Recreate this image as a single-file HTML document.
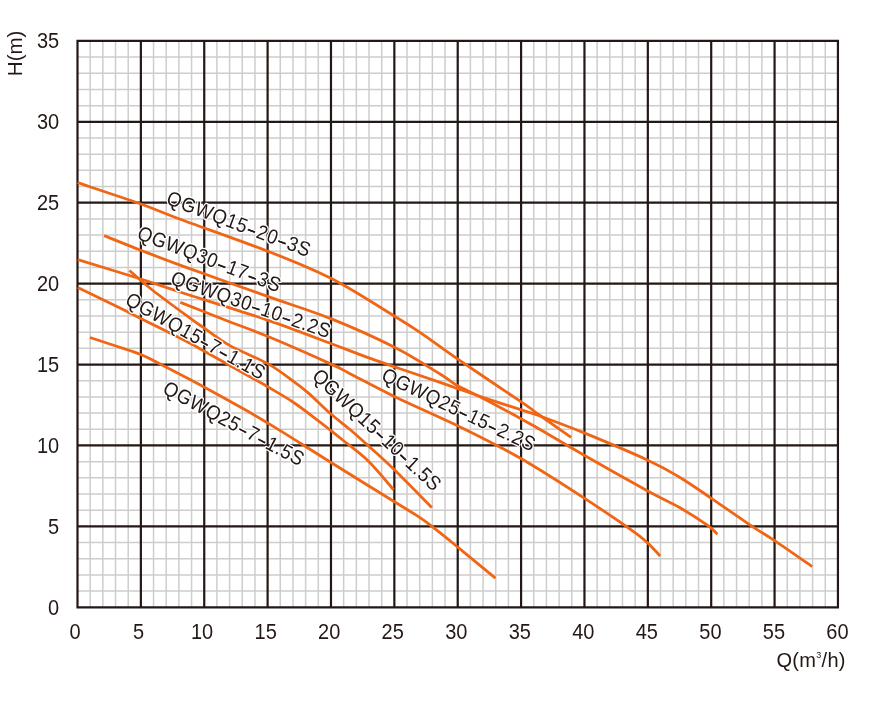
<!DOCTYPE html><html><head><meta charset="utf-8"><style>html,body{margin:0;padding:0;background:#fff;width:892px;height:707px;overflow:hidden}svg{will-change:transform}</style></head><body><svg width="892" height="707" viewBox="0 0 892 707" style="position:absolute;left:0;top:0"><rect width="892" height="707" fill="#fff"/><path d="M90.17 40.89V607.30M102.85 40.89V607.30M115.52 40.89V607.30M128.20 40.89V607.30M153.54 40.89V607.30M166.22 40.89V607.30M178.89 40.89V607.30M191.57 40.89V607.30M216.91 40.89V607.30M229.59 40.89V607.30M242.26 40.89V607.30M254.94 40.89V607.30M280.28 40.89V607.30M292.96 40.89V607.30M305.63 40.89V607.30M318.31 40.89V607.30M343.65 40.89V607.30M356.33 40.89V607.30M369.00 40.89V607.30M381.68 40.89V607.30M407.02 40.89V607.30M419.70 40.89V607.30M432.37 40.89V607.30M445.05 40.89V607.30M470.39 40.89V607.30M483.07 40.89V607.30M495.74 40.89V607.30M508.42 40.89V607.30M533.76 40.89V607.30M546.44 40.89V607.30M559.11 40.89V607.30M571.79 40.89V607.30M597.13 40.89V607.30M609.81 40.89V607.30M622.48 40.89V607.30M635.16 40.89V607.30M660.50 40.89V607.30M673.18 40.89V607.30M685.85 40.89V607.30M698.53 40.89V607.30M723.87 40.89V607.30M736.55 40.89V607.30M749.22 40.89V607.30M761.90 40.89V607.30M787.24 40.89V607.30M799.92 40.89V607.30M812.59 40.89V607.30M825.27 40.89V607.30M77.50 591.12H837.94M77.50 574.93H837.94M77.50 558.75H837.94M77.50 542.57H837.94M77.50 510.20H837.94M77.50 494.02H837.94M77.50 477.84H837.94M77.50 461.65H837.94M77.50 429.29H837.94M77.50 413.10H837.94M77.50 396.92H837.94M77.50 380.74H837.94M77.50 348.37H837.94M77.50 332.19H837.94M77.50 316.01H837.94M77.50 299.82H837.94M77.50 267.46H837.94M77.50 251.27H837.94M77.50 235.09H837.94M77.50 218.91H837.94M77.50 186.54H837.94M77.50 170.36H837.94M77.50 154.18H837.94M77.50 137.99H837.94M77.50 105.63H837.94M77.50 89.44H837.94M77.50 73.26H837.94M77.50 57.08H837.94" stroke="#cdcdcd" stroke-width="1.5" fill="none"/><path d="M77.50 39.89V608.30M140.87 39.89V608.30M204.24 39.89V608.30M267.61 39.89V608.30M330.98 39.89V608.30M394.35 39.89V608.30M457.72 39.89V608.30M521.09 39.89V608.30M584.46 39.89V608.30M647.83 39.89V608.30M711.20 39.89V608.30M774.57 39.89V608.30M837.94 39.89V608.30M76.50 607.30H838.94M76.50 526.38H838.94M76.50 445.47H838.94M76.50 364.55H838.94M76.50 283.64H838.94M76.50 202.72H838.94M76.50 121.81H838.94M76.50 40.89H838.94" stroke="#231815" stroke-width="2.2" fill="none"/><text transform="translate(59.2,614.77) scale(1,1.06)" text-anchor="end" font-size="20" fill="#231815" font-family="Liberation Sans, sans-serif">0</text><text transform="translate(59.2,533.85) scale(1,1.06)" text-anchor="end" font-size="20" fill="#231815" font-family="Liberation Sans, sans-serif">5</text><text transform="translate(59.2,452.94) scale(1,1.06)" text-anchor="end" font-size="20" fill="#231815" font-family="Liberation Sans, sans-serif">10</text><text transform="translate(59.2,372.02) scale(1,1.06)" text-anchor="end" font-size="20" fill="#231815" font-family="Liberation Sans, sans-serif">15</text><text transform="translate(59.2,291.11) scale(1,1.06)" text-anchor="end" font-size="20" fill="#231815" font-family="Liberation Sans, sans-serif">20</text><text transform="translate(59.2,210.19) scale(1,1.06)" text-anchor="end" font-size="20" fill="#231815" font-family="Liberation Sans, sans-serif">25</text><text transform="translate(59.2,129.28) scale(1,1.06)" text-anchor="end" font-size="20" fill="#231815" font-family="Liberation Sans, sans-serif">30</text><text transform="translate(59.2,48.36) scale(1,1.06)" text-anchor="end" font-size="20" fill="#231815" font-family="Liberation Sans, sans-serif">35</text><text transform="translate(75.05,638.80) scale(1,1.06)" text-anchor="middle" font-size="20" fill="#231815" font-family="Liberation Sans, sans-serif">0</text><text transform="translate(138.59,638.80) scale(1,1.06)" text-anchor="middle" font-size="20" fill="#231815" font-family="Liberation Sans, sans-serif">5</text><text transform="translate(202.12,638.80) scale(1,1.06)" text-anchor="middle" font-size="20" fill="#231815" font-family="Liberation Sans, sans-serif">10</text><text transform="translate(265.66,638.80) scale(1,1.06)" text-anchor="middle" font-size="20" fill="#231815" font-family="Liberation Sans, sans-serif">15</text><text transform="translate(329.19,638.80) scale(1,1.06)" text-anchor="middle" font-size="20" fill="#231815" font-family="Liberation Sans, sans-serif">20</text><text transform="translate(392.73,638.80) scale(1,1.06)" text-anchor="middle" font-size="20" fill="#231815" font-family="Liberation Sans, sans-serif">25</text><text transform="translate(456.26,638.80) scale(1,1.06)" text-anchor="middle" font-size="20" fill="#231815" font-family="Liberation Sans, sans-serif">30</text><text transform="translate(519.79,638.80) scale(1,1.06)" text-anchor="middle" font-size="20" fill="#231815" font-family="Liberation Sans, sans-serif">35</text><text transform="translate(583.33,638.80) scale(1,1.06)" text-anchor="middle" font-size="20" fill="#231815" font-family="Liberation Sans, sans-serif">40</text><text transform="translate(646.87,638.80) scale(1,1.06)" text-anchor="middle" font-size="20" fill="#231815" font-family="Liberation Sans, sans-serif">45</text><text transform="translate(710.40,638.80) scale(1,1.06)" text-anchor="middle" font-size="20" fill="#231815" font-family="Liberation Sans, sans-serif">50</text><text transform="translate(773.93,638.80) scale(1,1.06)" text-anchor="middle" font-size="20" fill="#231815" font-family="Liberation Sans, sans-serif">55</text><text transform="translate(837.47,638.80) scale(1,1.06)" text-anchor="middle" font-size="20" fill="#231815" font-family="Liberation Sans, sans-serif">60</text><text transform="translate(22.3,53.4) rotate(-90)" text-anchor="middle" font-size="20.5" fill="#231815" font-family="Liberation Sans, sans-serif">H(m)</text><text x="776.5" y="666.6" font-size="20" letter-spacing="0.3" fill="#231815" font-family="Liberation Sans, sans-serif">Q(m<tspan font-size="9" dy="-8.5">3</tspan><tspan dy="8.5">/h)</tspan></text><path d="M77.60 182.70 C88.13 186.25 123.82 197.95 140.80 204.00 C157.78 210.05 158.38 211.15 179.50 219.00 C200.62 226.85 242.18 241.17 267.50 251.10 C292.82 261.03 310.23 267.75 331.40 278.60 C352.57 289.45 379.73 307.23 394.50 316.20 C409.27 325.17 409.45 325.23 420.00 332.40 C430.55 339.57 440.87 347.57 457.80 359.20 C474.73 370.83 507.90 392.82 521.60 402.20 C535.30 411.58 531.75 409.63 540.00 415.50 C548.25 421.37 565.92 433.75 571.10 437.40" stroke="#f06614" stroke-width="2.8" fill="none" stroke-linecap="butt" stroke-linejoin="round"/><path d="M104.10 235.60 C110.20 238.03 128.05 245.28 140.70 250.20 C153.35 255.12 158.87 257.40 180.00 265.10 C201.13 272.80 242.27 287.43 267.50 296.40 C292.73 305.37 310.23 310.42 331.40 318.90 C352.57 327.38 376.40 338.12 394.50 347.30 C412.60 356.48 429.47 367.58 440.00 374.00 C450.53 380.42 450.97 381.97 457.70 385.80 C464.43 389.63 469.80 391.48 480.40 397.00 C491.00 402.52 511.37 413.48 521.30 418.90 C531.23 424.32 529.52 423.43 540.00 429.50 C550.48 435.57 566.25 445.05 584.20 455.30 C602.15 465.55 631.87 482.33 647.70 491.00 C663.53 499.67 669.27 501.60 679.20 507.30 C689.13 513.00 700.93 520.72 707.30 525.20 C713.67 529.68 715.72 532.70 717.40 534.20" stroke="#f06614" stroke-width="2.8" fill="none" stroke-linecap="butt" stroke-linejoin="round"/><path d="M77.80 259.60 C88.30 262.83 123.77 273.60 140.80 279.00 C157.83 284.40 158.88 285.15 180.00 292.00 C201.12 298.85 242.27 311.48 267.50 320.10 C292.73 328.72 315.98 337.95 331.40 343.70 C346.82 349.45 348.57 350.43 360.00 354.60 C371.43 358.77 386.67 364.08 400.00 368.70 C413.33 373.32 430.38 378.98 440.00 382.30 C449.62 385.62 450.97 386.23 457.70 388.60 C464.43 390.97 469.80 392.95 480.40 396.50 C491.00 400.05 511.37 406.65 521.30 409.90 C531.23 413.15 529.52 412.17 540.00 416.00 C550.48 419.83 566.23 425.53 584.20 432.90 C602.17 440.27 631.97 452.85 647.80 460.20 C663.63 467.55 668.62 470.65 679.20 477.00 C689.78 483.35 699.15 490.08 711.30 498.30 C723.45 506.52 741.48 519.20 752.10 526.30 C762.72 533.40 764.98 534.17 775.00 540.90 C785.02 547.63 806.00 562.40 812.20 566.70" stroke="#f06614" stroke-width="2.8" fill="none" stroke-linecap="butt" stroke-linejoin="round"/><path d="M180.40 302.40 C188.58 305.62 214.98 316.05 229.50 321.70 C244.02 327.35 250.57 329.23 267.50 336.30 C284.43 343.37 317.35 357.87 331.10 364.10 C344.85 370.33 339.48 368.32 350.00 373.70 C360.52 379.08 375.87 387.53 394.20 396.40 C412.53 405.27 439.03 416.63 460.00 426.90 C480.97 437.17 499.23 446.08 520.00 458.00 C540.77 469.92 564.60 485.33 584.60 498.40 C604.60 511.47 627.40 526.78 640.00 536.40 C652.60 546.02 656.83 552.82 660.20 556.10" stroke="#f06614" stroke-width="2.8" fill="none" stroke-linecap="butt" stroke-linejoin="round"/><path d="M77.80 287.50 C84.83 290.90 109.43 302.70 120.00 307.90 C130.57 313.10 129.53 312.82 141.20 318.70 C152.87 324.58 179.55 337.82 190.00 343.20 C200.45 348.58 192.23 344.48 203.90 351.00 C215.57 357.52 249.38 376.33 260.00 382.30 C270.62 388.27 262.12 383.52 267.60 386.80 C273.08 390.08 284.43 396.33 292.90 402.00 C301.37 407.67 312.05 416.02 318.40 420.80 C324.75 425.58 326.97 427.50 331.00 430.70 C335.03 433.90 336.40 434.95 342.60 440.00 C348.80 445.05 359.70 452.72 368.20 461.00 C376.70 469.28 389.37 484.92 393.60 489.70" stroke="#f06614" stroke-width="2.8" fill="none" stroke-linecap="butt" stroke-linejoin="round"/><path d="M89.90 337.50 C94.23 338.92 107.42 343.17 115.90 346.00 C124.38 348.83 133.45 351.50 140.80 354.50 C148.15 357.50 149.48 358.60 160.00 364.00 C170.52 369.40 189.63 379.23 203.90 386.90 C218.17 394.57 234.58 403.75 245.60 410.00 C256.62 416.25 260.93 418.90 270.00 424.40 C279.07 429.90 289.77 436.60 300.00 443.00 C310.23 449.40 315.80 453.08 331.40 462.80 C347.00 472.52 379.33 492.48 393.60 501.30 C407.87 510.12 410.55 511.47 417.00 515.70 C423.45 519.93 425.52 521.47 432.30 526.70 C439.08 531.93 447.18 538.53 457.70 547.10 C468.22 555.67 489.12 572.93 495.40 578.10" stroke="#f06614" stroke-width="2.8" fill="none" stroke-linecap="butt" stroke-linejoin="round"/><path d="M129.40 270.50 C133.22 273.75 142.20 282.07 152.30 290.00 C162.40 297.93 181.40 311.78 190.00 318.10 C198.60 324.42 197.32 323.35 203.90 327.90 C210.48 332.45 218.93 339.48 229.50 345.40 C240.07 351.32 256.75 357.50 267.30 363.40 C277.85 369.30 285.93 375.85 292.80 380.80 C299.67 385.75 302.30 387.68 308.50 393.10 C314.70 398.52 323.08 407.23 330.00 413.30 C336.92 419.37 343.63 424.10 350.00 429.50 C356.37 434.90 360.93 439.10 368.20 445.70 C375.47 452.30 383.00 458.78 393.60 469.10 C404.20 479.42 425.43 501.18 431.80 507.60" stroke="#f06614" stroke-width="2.8" fill="none" stroke-linecap="butt" stroke-linejoin="round"/><text transform="translate(165.33,203.62) rotate(20.62) scale(0.95,1.04)" font-size="19.6" letter-spacing="0.575" fill="#231815" stroke="#fff" stroke-width="2.4" stroke-linejoin="round" paint-order="stroke" font-family="Liberation Sans, sans-serif">QGWQ15<tspan font-family="Liberation Mono, monospace" font-size="18.0">–</tspan>20<tspan font-family="Liberation Mono, monospace" font-size="18.0">–</tspan>3S</text><text transform="translate(165.33,203.62) rotate(20.62) scale(0.95,1.04)" font-size="19.6" letter-spacing="0.575" fill="none" font-family="Liberation Sans, sans-serif">QGWQ15<tspan font-family="Liberation Mono, monospace" font-size="18.0" fill="#231815" stroke="#231815" stroke-width="0.35">–</tspan>20<tspan font-family="Liberation Mono, monospace" font-size="18.0" fill="#231815" stroke="#231815" stroke-width="0.35">–</tspan>3S</text><text transform="translate(136.01,238.38) rotate(20.89) scale(0.95,1.04)" font-size="19.6" letter-spacing="0.547" fill="#231815" stroke="#fff" stroke-width="2.4" stroke-linejoin="round" paint-order="stroke" font-family="Liberation Sans, sans-serif">QGWQ30<tspan font-family="Liberation Mono, monospace" font-size="18.0">–</tspan>17<tspan font-family="Liberation Mono, monospace" font-size="18.0">–</tspan>3S</text><text transform="translate(136.01,238.38) rotate(20.89) scale(0.95,1.04)" font-size="19.6" letter-spacing="0.547" fill="none" font-family="Liberation Sans, sans-serif">QGWQ30<tspan font-family="Liberation Mono, monospace" font-size="18.0" fill="#231815" stroke="#231815" stroke-width="0.35">–</tspan>17<tspan font-family="Liberation Mono, monospace" font-size="18.0" fill="#231815" stroke="#231815" stroke-width="0.35">–</tspan>3S</text><text transform="translate(169.44,283.68) rotate(19.05) scale(0.95,1.04)" font-size="19.6" letter-spacing="0.515" fill="#231815" stroke="#fff" stroke-width="2.4" stroke-linejoin="round" paint-order="stroke" font-family="Liberation Sans, sans-serif">QGWQ30<tspan font-family="Liberation Mono, monospace" font-size="18.0">–</tspan>10<tspan font-family="Liberation Mono, monospace" font-size="18.0">–</tspan>2.2S</text><text transform="translate(169.44,283.68) rotate(19.05) scale(0.95,1.04)" font-size="19.6" letter-spacing="0.515" fill="none" font-family="Liberation Sans, sans-serif">QGWQ30<tspan font-family="Liberation Mono, monospace" font-size="18.0" fill="#231815" stroke="#231815" stroke-width="0.35">–</tspan>10<tspan font-family="Liberation Mono, monospace" font-size="18.0" fill="#231815" stroke="#231815" stroke-width="0.35">–</tspan>2.2S</text><text transform="translate(124.03,303.78) rotate(29.28) scale(0.95,1.04)" font-size="19.6" letter-spacing="0.465" fill="#231815" stroke="#fff" stroke-width="2.4" stroke-linejoin="round" paint-order="stroke" font-family="Liberation Sans, sans-serif">QGWQ15<tspan font-family="Liberation Mono, monospace" font-size="18.0">–</tspan>7<tspan font-family="Liberation Mono, monospace" font-size="18.0">–</tspan>1.1S</text><text transform="translate(124.03,303.78) rotate(29.28) scale(0.95,1.04)" font-size="19.6" letter-spacing="0.465" fill="none" font-family="Liberation Sans, sans-serif">QGWQ15<tspan font-family="Liberation Mono, monospace" font-size="18.0" fill="#231815" stroke="#231815" stroke-width="0.35">–</tspan>7<tspan font-family="Liberation Mono, monospace" font-size="18.0" fill="#231815" stroke="#231815" stroke-width="0.35">–</tspan>1.1S</text><text transform="translate(161.48,392.57) rotate(28.18) scale(0.95,1.04)" font-size="19.6" letter-spacing="0.484" fill="#231815" stroke="#fff" stroke-width="2.4" stroke-linejoin="round" paint-order="stroke" font-family="Liberation Sans, sans-serif">QGWQ25<tspan font-family="Liberation Mono, monospace" font-size="18.0">–</tspan>7<tspan font-family="Liberation Mono, monospace" font-size="18.0">–</tspan>1.5S</text><text transform="translate(161.48,392.57) rotate(28.18) scale(0.95,1.04)" font-size="19.6" letter-spacing="0.484" fill="none" font-family="Liberation Sans, sans-serif">QGWQ25<tspan font-family="Liberation Mono, monospace" font-size="18.0" fill="#231815" stroke="#231815" stroke-width="0.35">–</tspan>7<tspan font-family="Liberation Mono, monospace" font-size="18.0" fill="#231815" stroke="#231815" stroke-width="0.35">–</tspan>1.5S</text><text transform="translate(310.89,377.47) rotate(43.13) scale(0.95,1.04)" font-size="19.6" letter-spacing="0.516" fill="#231815" stroke="#fff" stroke-width="2.4" stroke-linejoin="round" paint-order="stroke" font-family="Liberation Sans, sans-serif">QGWQ15<tspan font-family="Liberation Mono, monospace" font-size="18.0">–</tspan>10<tspan font-family="Liberation Mono, monospace" font-size="18.0">–</tspan>1.5S</text><text transform="translate(310.89,377.47) rotate(43.13) scale(0.95,1.04)" font-size="19.6" letter-spacing="0.516" fill="none" font-family="Liberation Sans, sans-serif">QGWQ15<tspan font-family="Liberation Mono, monospace" font-size="18.0" fill="#231815" stroke="#231815" stroke-width="0.35">–</tspan>10<tspan font-family="Liberation Mono, monospace" font-size="18.0" fill="#231815" stroke="#231815" stroke-width="0.35">–</tspan>1.5S</text><text transform="translate(380.32,379.72) rotate(25.5) scale(0.95,1.04)" font-size="19.6" letter-spacing="0.485" fill="#231815" stroke="#fff" stroke-width="2.4" stroke-linejoin="round" paint-order="stroke" font-family="Liberation Sans, sans-serif">QGWQ25<tspan font-family="Liberation Mono, monospace" font-size="18.0">–</tspan>15<tspan font-family="Liberation Mono, monospace" font-size="18.0">–</tspan>2.2S</text><text transform="translate(380.32,379.72) rotate(25.5) scale(0.95,1.04)" font-size="19.6" letter-spacing="0.485" fill="none" font-family="Liberation Sans, sans-serif">QGWQ25<tspan font-family="Liberation Mono, monospace" font-size="18.0" fill="#231815" stroke="#231815" stroke-width="0.35">–</tspan>15<tspan font-family="Liberation Mono, monospace" font-size="18.0" fill="#231815" stroke="#231815" stroke-width="0.35">–</tspan>2.2S</text></svg></body></html>
